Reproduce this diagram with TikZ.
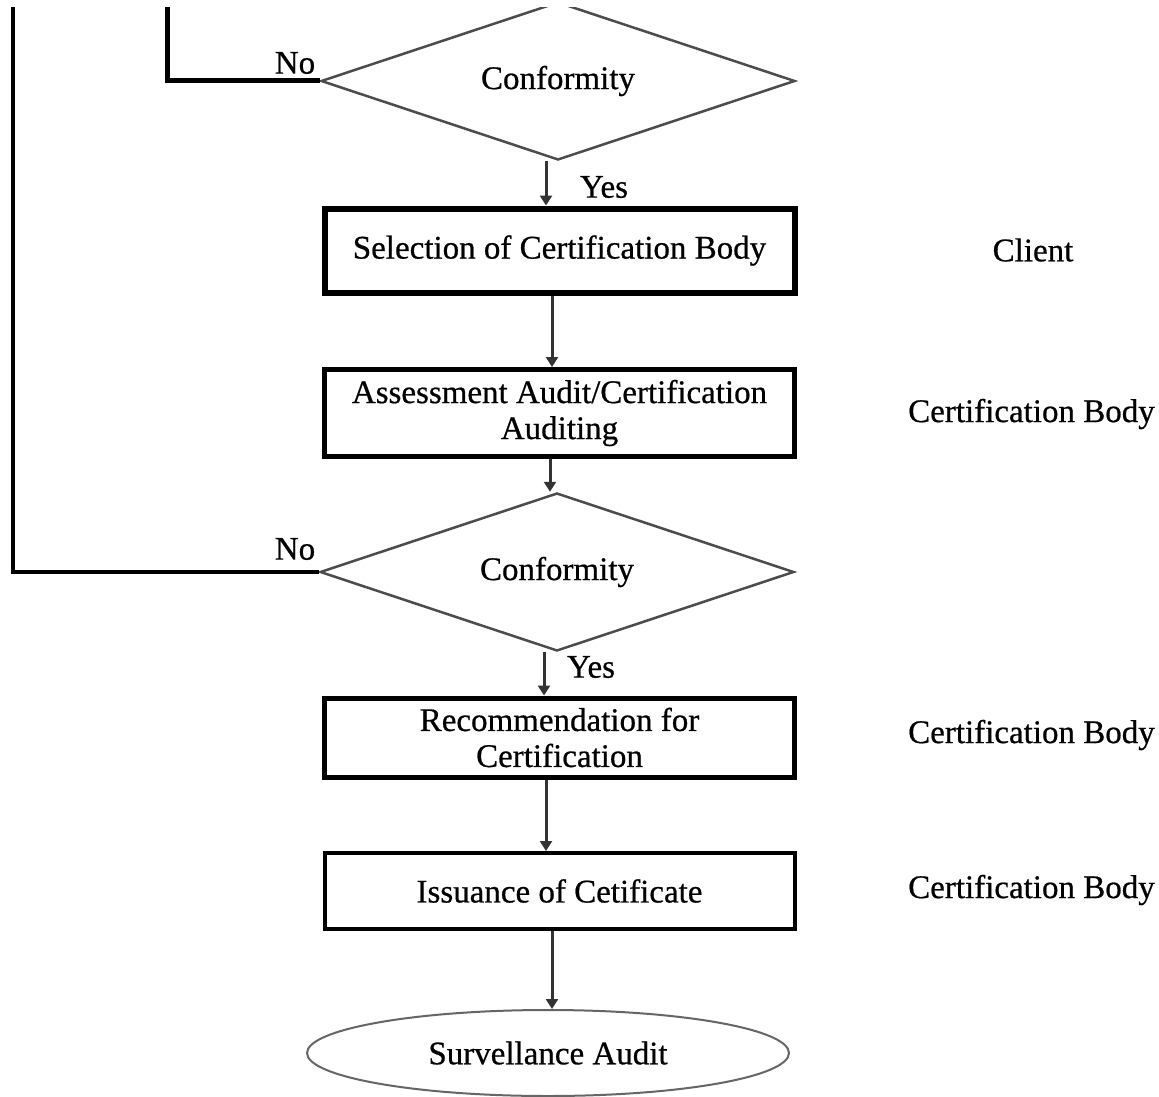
\documentclass[tikz,border=0pt]{standalone}
\usepackage{fontspec}
\setmainfont{Liberation Serif}[FakeBold=0.6]
\usetikzlibrary{shapes.geometric,arrows.meta,calc}
\begin{document}
\begin{tikzpicture}[x=1pt,y=-1pt,
  every node/.style={font=\fontsize{33}{36}\selectfont, text=black},
  procbox/.style={draw=black, rectangle, minimum width=470pt, inner sep=0pt, align=center},
  decide/.style={draw=black!70, line width=2.5pt, diamond, aspect=3, minimum width=474pt, minimum height=158pt, inner sep=0pt},
  term/.style={draw=black!60, line width=2pt, ellipse, minimum width=482pt, minimum height=86pt, inner sep=0pt},
  flow/.style={draw=black!80, line width=3pt, -{Triangle[length=10pt,width=12pt]}},
  back/.style={draw=black, line width=3.5pt},
  lbl/.style={inner sep=0pt},
  side/.style={inner sep=0pt, anchor=west}]
\useasboundingbox (0,0) rectangle (1159,1097);
\fill[white] (0,0) rectangle (1159,1097);
\begin{scope}
\clip (0,8) rectangle (1159,1097);
% decision 1
\node[decide] (d1) at (558,81) {Conformity};
% boxes
\node[procbox, line width=6pt, minimum height=84pt] (b1) at (559.5,250.5) {Selection of Certification Body};
\node[procbox, line width=5pt, minimum height=87pt] (b2) at (559.5,413) {Assessment Audit/Certification\\Auditing};
\node[decide] (d2) at (557,572) {Conformity};
\node[procbox, line width=5pt, minimum height=79pt] (b3) at (559.5,737.5) {Recommendation for\\Certification};
\node[procbox, line width=4pt, minimum height=76pt] (b4) at (559.5,891) {Issuance of Cetificate};
\node[term] (t1) at (548,1053) {Survellance Audit};
% side labels
\node[lbl] (c1) at (1033,250) {Client};
\node[side] (c2) at (908,414) {Certification Body};
\node[side] (c3) at (908,735) {Certification Body};
\node[side] (c4) at (908,890) {Certification Body};
% yes / no labels
\node[lbl] (y1) at (604,187) {Yes};
\node[lbl] (y2) at (591,667) {Yes};
\node[lbl] (n1) at (295,63) {No};
\node[lbl] (n2) at (295,549) {No};
% arrow columns
\coordinate (x1) at (546,0);
\coordinate (x2) at (552,0);
\coordinate (x3) at (550,0);
\coordinate (x4) at (544,0);
\coordinate (x5) at (546,0);
\coordinate (x6) at (552,0);
% flow arrows
\draw[flow] (d1.south -| x1) -- (b1.north -| x1);
\draw[flow] (b1.south -| x2) -- (b2.north -| x2);
\draw[flow] (b2.south -| x3) -- (d2.north -| x3);
\draw[flow] (d2.south -| x4) -- (b3.north -| x4);
\draw[flow] (b3.south -| x5) -- (b4.north -| x5);
\draw[flow] (b4.south -| x6) -- (t1.north -| x6);
% feedback lines
\coordinate (f1) at (167,0);
\coordinate (f2) at (13,0);
\draw[back, line width=5pt] (f1) |- (d1.west);
\draw[back] (f2) |- (d2.west);
\end{scope}
\end{tikzpicture}
\end{document}
